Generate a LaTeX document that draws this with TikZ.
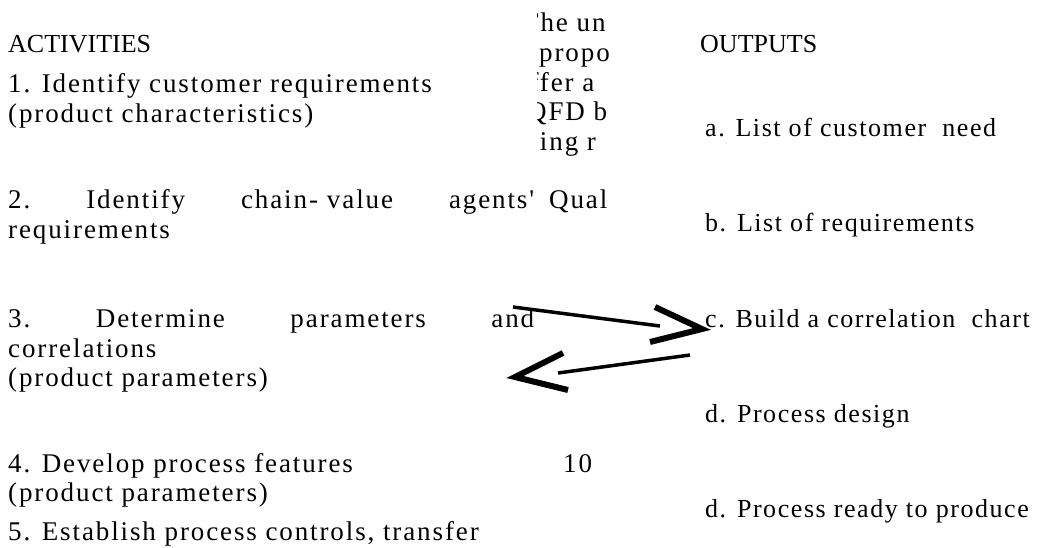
\documentclass[tikz,border=0pt]{standalone}
\usepackage{fontspec}
\setmainfont{Liberation Serif}
\newfontfamily\spaced{Liberation Serif}[LetterSpace=7.0]
\newfontfamily\spacedr{Liberation Serif}[LetterSpace=6.0]
\begin{document}
\begin{tikzpicture}[x=1pt,y=-1pt,
  txt/.style={anchor=base west,inner sep=0pt,font=\spaced\fontsize{27}{30}\selectfont},
  outtxt/.style={anchor=base west,inner sep=0pt,font=\spacedr\fontsize{26}{30}\selectfont},
  head/.style={anchor=base west,inner sep=0pt,font=\fontsize{26}{30}\selectfont},
  shaft/.style={line width=3.5pt},
  chev/.style={line width=6pt,miter limit=10}]
\useasboundingbox (0,0) rectangle (1051,547);
% headings
\node[head] (acth) at (8,52) {ACTIVITIES};
\node[head] (outh) at (700,52) {OUTPUTS};
% activities
\node[txt] (a1) at (8,92) {1. Identify customer requirements};
\node[txt] (a1b) at (8,122) {(product characteristics)};
\node[txt,text width=526pt] (a2) at (8,208) {2.\hfill Identify\hfill chain- value\hfill agents'};
\node[txt] (a2b) at (8,238) {requirements};
\node[txt,text width=526pt] (a3) at (8,327) {3.\hfill Determine\hfill parameters\hfill and};
\node[txt] (a3b) at (8,357) {correlations};
\node[txt] (a3c) at (8,386) {(product parameters)};
\node[txt] (a4) at (8,472) {4. Develop process features};
\node[txt] (a4b) at (8,501) {(product parameters)};
\node[txt] (a5) at (8,540) {5. Establish process controls, transfer};
\node[txt] (pg) at (563,472) {10};
% outputs
\node[outtxt] (oa) at (705,136) {a. List of customer\ \ need};
\node[outtxt] (ob) at (705,231) {b. List of requirements};
\node[outtxt] (oc) at (705,327) {c. Build a correlation\ \ chart};
\node[outtxt] (od) at (705,422) {d. Process design};
\node[outtxt] (oe) at (705,517) {d. Process ready to produce};
% clipped middle column fragments
\begin{scope}
\clip (537,0) rectangle (608,547);
\node[txt] (m1) at (522,31) {The un};
\node[txt] (m2) at (539,61) {propo};
\node[txt] (m3) at (514,91) {offer a};
\node[txt] (m4) at (527,120) {QFD b};
\node[txt] (m5) at (512,150) {using r};
\node[txt] (m6) at (549,208) {Qual};
\end{scope}
% arrows
\coordinate (s1) at (513,307);
\coordinate (e1) at (660,326);
\coordinate (t1) at (702,329);
\coordinate (s2) at (690,355);
\coordinate (e2) at (558,373);
\coordinate (t2) at (515,377);
\draw[shaft] (s1) -- (e1);
\draw[chev] (655,307) -- (t1) -- (650,342);
\draw[shaft] (s2) -- (e2);
\draw[chev] (563,353) -- (t2) -- (568,390);
\end{tikzpicture}
\end{document}
